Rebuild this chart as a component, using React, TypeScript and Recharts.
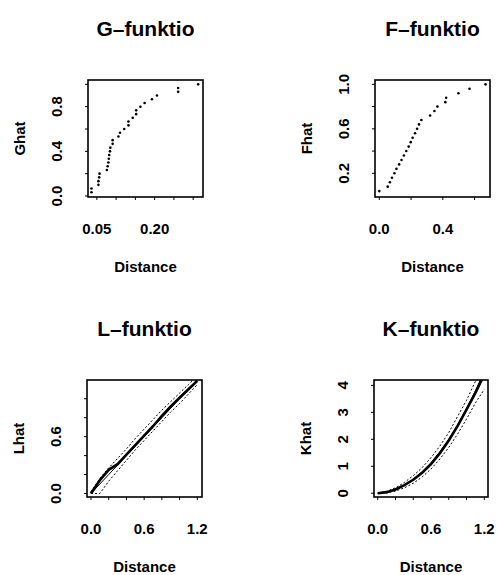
import React from 'react';
import { ScatterChart, Scatter, LineChart, Line, XAxis, YAxis } from 'recharts';

const FONT = '"Liberation Sans", Arial, sans-serif';

// ---- G-funktio (nearest-neighbour distance distribution) ----
const gDistance = [0.036, 0.036, 0.054, 0.054, 0.056, 0.057, 0.076, 0.078, 0.080, 0.081, 0.082, 0.084, 0.085, 0.091, 0.091, 0.106, 0.110, 0.121, 0.132, 0.132, 0.143, 0.152, 0.152, 0.163, 0.174, 0.193, 0.206, 0.261, 0.261, 0.313];
const gHat = [0.033, 0.067, 0.100, 0.133, 0.167, 0.200, 0.233, 0.267, 0.300, 0.333, 0.367, 0.400, 0.433, 0.467, 0.500, 0.533, 0.567, 0.600, 0.633, 0.667, 0.700, 0.733, 0.767, 0.800, 0.833, 0.867, 0.900, 0.933, 0.967, 1.000];
const gXTicks = [0.05, 0.1, 0.15, 0.2, 0.25, 0.3];
const gXShown = ['0.05', '0.20'];
const gYTicks = [0, 0.2, 0.4, 0.6, 0.8, 1.0];
const gYShown = ['0.0', '0.4', '0.8'];

// ---- F-funktio (empty space function) ----
const fDistance = [0.0, 0.053, 0.067, 0.080, 0.095, 0.108, 0.125, 0.140, 0.155, 0.170, 0.185, 0.198, 0.210, 0.225, 0.238, 0.250, 0.265, 0.320, 0.347, 0.366, 0.416, 0.421, 0.498, 0.568, 0.669];
const fHat = [0.04, 0.08, 0.12, 0.16, 0.20, 0.24, 0.28, 0.32, 0.36, 0.40, 0.44, 0.48, 0.52, 0.56, 0.60, 0.64, 0.68, 0.72, 0.76, 0.80, 0.84, 0.88, 0.92, 0.96, 1.00];
const fXTicks = [0, 0.2, 0.4, 0.6];
const fXShown = ['0.0', '0.4'];
const fYTicks = [0.2, 0.4, 0.6, 0.8, 1.0];
const fYShown = ['0.2', '0.6', '1.0'];

// ---- L-funktio ----
const lDistance = [0, 0.1, 0.2, 0.3, 0.4, 0.5, 0.6, 0.7, 0.8, 0.9, 1.0, 1.1, 1.2];
const lHat = [0.0, 0.14, 0.25, 0.31, 0.41, 0.51, 0.61, 0.71, 0.82, 0.92, 1.01, 1.10, 1.19];
const lUpper = [0.02, 0.16, 0.27, 0.37, 0.47, 0.58, 0.68, 0.78, 0.88, 0.97, 1.06, 1.15, 1.24];
const lLower = [0.0, 0.0, 0.13, 0.24, 0.35, 0.46, 0.56, 0.66, 0.76, 0.86, 0.95, 1.05, 1.15];
const lTheory = [0, 0.1, 0.2, 0.3, 0.4, 0.5, 0.6, 0.7, 0.8, 0.9, 1.0, 1.1, 1.2];
const lXTicks = [0, 0.2, 0.4, 0.6, 0.8, 1.0, 1.2];
const lXShown = ['0.0', '0.6', '1.2'];
const lYTicks = [0, 0.2, 0.4, 0.6, 0.8, 1.0];
const lYShown = ['0.0', '0.6'];

// ---- K-funktio ----
const kDistance = [0, 0.1, 0.2, 0.3, 0.4, 0.5, 0.6, 0.7, 0.8, 0.9, 1.0, 1.1, 1.2];
const kHat = [0, 0.04, 0.14, 0.30, 0.50, 0.76, 1.08, 1.48, 1.95, 2.50, 3.10, 3.72, 4.40];
const kUpper = [0, 0.07, 0.20, 0.40, 0.65, 0.95, 1.32, 1.75, 2.25, 2.85, 3.45, 4.15, 4.80];
const kLower = [0, 0.01, 0.08, 0.20, 0.37, 0.60, 0.90, 1.27, 1.70, 2.20, 2.75, 3.35, 3.85];
const kTheory = [0, 0.03, 0.13, 0.28, 0.50, 0.79, 1.13, 1.54, 2.01, 2.54, 3.14, 3.80, 4.52];
const kXTicks = [0, 0.2, 0.4, 0.6, 0.8, 1.0, 1.2];
const kXShown = ['0.0', '0.6', '1.2'];
const kYTicks = [0, 1, 2, 3, 4];
const kYShown = ['0', '1', '2', '3', '4'];

const fmt1 = (v: number) => v.toFixed(1);
const fmt2 = (v: number) => v.toFixed(2);
const fmt0 = (v: number) => v.toFixed(0);

const YW = 136;
const XH = 140;
const TOP = 60;
const RIGHT = 10;
const TICK = 3;

type LineSpec = { key: string; width: number; dash?: string };

type PanelProps = {
  title: string;
  xLabel: string;
  yLabel: string;
  boxLeft: number;
  boxTop: number;
  boxW: number;
  boxH: number;
  xDomain: [number, number];
  yDomain: [number, number];
  xTicks: number[];
  yTicks: number[];
  xShown: string[];
  yShown: string[];
  xFmt: (v: number) => string;
  yFmt: (v: number) => string;
  points?: { x: number; y: number }[];
  table?: Record<string, number>[];
  lines?: LineSpec[];
};

const textStyle = { fontFamily: FONT, fontSize: 15, fontWeight: 700, fill: '#000' };

function Frame({ left, top, w, h }: { left: number; top: number; w: number; h: number }) {
  return (
    <svg
      width={w + 4}
      height={h + 4}
      style={{ position: 'absolute', left: left - 2, top: top - 2, zIndex: 20, overflow: 'visible', pointerEvents: 'none' }}
    >
      <rect x={2} y={2} width={w} height={h} fill="none" stroke="#000" strokeWidth={1.6} />
    </svg>
  );
}

function Panel(p: PanelProps) {
  const width = YW + p.boxW + RIGHT;
  const height = TOP + p.boxH + XH;

  const XTick = (props: any) => {
    const { x, y, payload } = props;
    const s = p.xFmt(payload.value);
    if (!p.xShown.includes(s)) return <g />;
    return (
      <text x={x} y={y + 28} textAnchor="middle" dominantBaseline="central" style={textStyle}>
        {s}
      </text>
    );
  };
  const YTick = (props: any) => {
    const { x, y, payload } = props;
    const s = p.yFmt(payload.value);
    if (!p.yShown.includes(s)) return <g />;
    const cx = x - 28;
    return (
      <text
        x={cx}
        y={y}
        transform={`rotate(-90 ${cx} ${y})`}
        textAnchor="middle"
        dominantBaseline="central"
        style={textStyle}
      >
        {s}
      </text>
    );
  };

  const axes = [
    <XAxis
      key="x"
      type="number"
      dataKey="x"
      domain={p.xDomain}
      allowDataOverflow
      ticks={p.xTicks}
      interval={0}
      tick={XTick}
      tickSize={TICK}
      tickMargin={0}
      tickLine={{ stroke: '#000', strokeWidth: 1 }}
      axisLine={false}
      height={XH}
      label={{ value: p.xLabel, position: 'center', ...textStyle }}
    />,
    <YAxis
      key="y"
      type="number"
      dataKey="y"
      domain={p.yDomain}
      allowDataOverflow
      ticks={p.yTicks}
      interval={0}
      tick={YTick}
      tickSize={TICK}
      tickMargin={0}
      tickLine={{ stroke: '#000', strokeWidth: 1 }}
      axisLine={false}
      width={YW}
      label={{ value: p.yLabel, angle: -90, position: 'center', ...textStyle }}
    />,
  ];

  const margin = { top: TOP, right: RIGHT, bottom: 0, left: 0 };

  return (
    <>
      <div
        style={{
          position: 'absolute',
          left: p.boxLeft - YW,
          top: p.boxTop - TOP,
          width,
          height,
          zIndex: 1,
        }}
      >
        {p.points ? (
          <ScatterChart width={width} height={height} margin={margin}>
            {axes}
            <Scatter
              data={p.points}
              isAnimationActive={false}
              shape={(s: any) => <circle cx={s.cx} cy={s.cy} r={1.3} fill="#000" />}
            />
          </ScatterChart>
        ) : (
          <LineChart width={width} height={height} margin={margin} data={p.table}>
            {axes}
            {(p.lines || []).map((l) => (
              <Line
                key={l.key}
                dataKey={l.key}
                type="linear"
                stroke="#000"
                strokeWidth={l.width}
                strokeDasharray={l.dash}
                dot={false}
                activeDot={false}
                isAnimationActive={false}
              />
            ))}
          </LineChart>
        )}
      </div>
      <Frame left={p.boxLeft} top={p.boxTop} w={p.boxW} h={p.boxH} />
      <div
        style={{
          position: 'absolute',
          left: p.boxLeft + p.boxW / 2 - 100,
          top: p.boxTop - 51.5 - 15,
          width: 200,
          height: 30,
          lineHeight: '30px',
          textAlign: 'center',
          fontFamily: FONT,
          fontWeight: 700,
          fontSize: 21,
          color: '#000',
          zIndex: 20,
        }}
      >
        {p.title}
      </div>
    </>
  );
}

const zipPoints = (xs: number[], ys: number[]) => xs.map((x, i) => ({ x, y: ys[i] }));
const lTable = lDistance.map((x, i) => ({ x, hat: lHat[i], upper: lUpper[i], lower: lLower[i], theory: lTheory[i] }));
const kTable = kDistance.map((x, i) => ({ x, hat: kHat[i], upper: kUpper[i], lower: kLower[i], theory: kTheory[i] }));

const envLines: LineSpec[] = [
  { key: 'theory', width: 1 },
  { key: 'upper', width: 1, dash: '2 2' },
  { key: 'lower', width: 1, dash: '2 2' },
  { key: 'hat', width: 2.6 },
];

export default function App() {
  return (
    <div
      style={{
        position: 'fixed',
        left: 0,
        top: 0,
        width: 497,
        height: 575,
        overflow: 'hidden',
        background: '#fff',
      }}
    >
      <Panel
        title="G–funktio"
        xLabel="Distance"
        yLabel="Ghat"
        boxLeft={88}
        boxTop={80}
        boxW={115}
        boxH={117}
        xDomain={[0.027, 0.3255]}
        yDomain={[-0.009, 1.039]}
        xTicks={gXTicks}
        yTicks={gYTicks}
        xShown={gXShown}
        yShown={gYShown}
        xFmt={fmt2}
        yFmt={fmt1}
        points={zipPoints(gDistance, gHat)}
      />
      <Panel
        title="F–funktio"
        xLabel="Distance"
        yLabel="Fhat"
        boxLeft={375}
        boxTop={80}
        boxW={115}
        boxH={117}
        xDomain={[-0.027, 0.697]}
        yDomain={[-0.013, 1.039]}
        xTicks={fXTicks}
        yTicks={fYTicks}
        xShown={fXShown}
        yShown={fYShown}
        xFmt={fmt1}
        yFmt={fmt1}
        points={zipPoints(fDistance, fHat)}
      />
      <Panel
        title="L–funktio"
        xLabel="Distance"
        yLabel="Lhat"
        boxLeft={87}
        boxTop={380}
        boxW={115}
        boxH={117}
        xDomain={[-0.045, 1.253]}
        yDomain={[-0.037, 1.198]}
        xTicks={lXTicks}
        yTicks={lYTicks}
        xShown={lXShown}
        yShown={lYShown}
        xFmt={fmt1}
        yFmt={fmt1}
        table={lTable}
        lines={envLines}
      />
      <Panel
        title="K–funktio"
        xLabel="Distance"
        yLabel="Khat"
        boxLeft={374}
        boxTop={380}
        boxW={114}
        boxH={117}
        xDomain={[-0.042, 1.242]}
        yDomain={[-0.14, 4.2]}
        xTicks={kXTicks}
        yTicks={kYTicks}
        xShown={kXShown}
        yShown={kYShown}
        xFmt={fmt1}
        yFmt={fmt0}
        table={kTable}
        lines={envLines}
      />
    </div>
  );
}
